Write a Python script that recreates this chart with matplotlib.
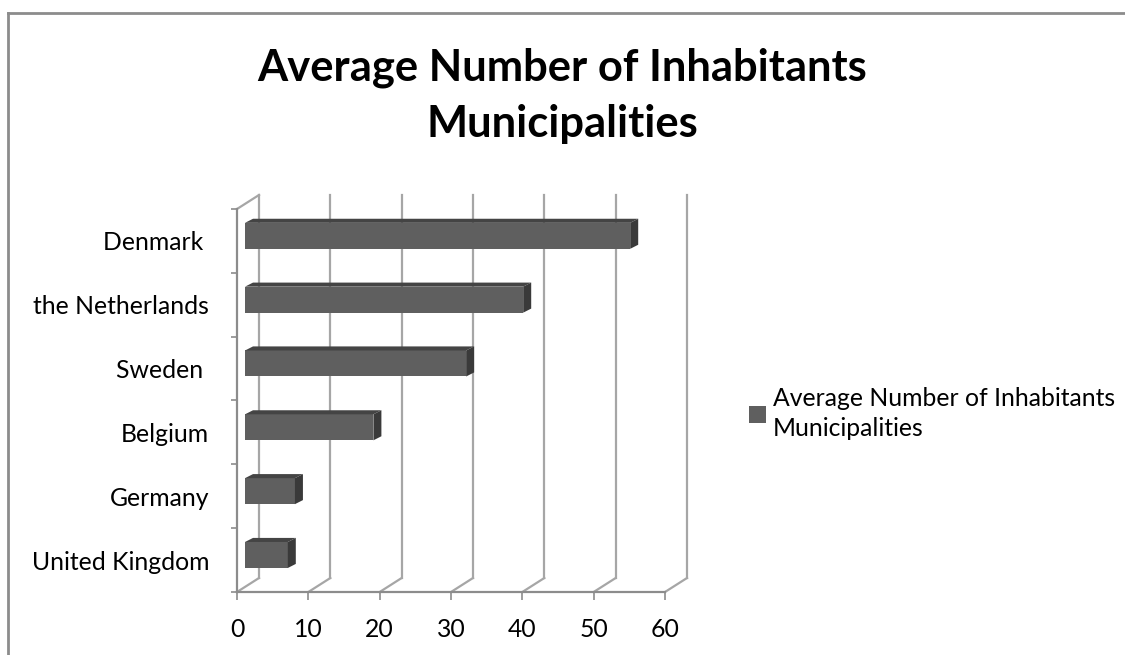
import matplotlib
matplotlib.use("Agg")
import matplotlib.pyplot as plt
from matplotlib.patches import Polygon, Patch
from matplotlib.lines import Line2D

# data (bottom to top, as drawn)
countries = ["United Kingdom", "Germany", "Belgium", "Sweden ", "the Netherlands", "Denmark "]
values = [6, 7, 18, 31, 39, 54]
x_ticks = [0, 10, 20, 30, 40, 50, 60]
series_name = "Average Number of Inhabitants\nMunicipalities"
title = "Average Number of Inhabitants\nMunicipalities"

plt.rcParams['font.family'] = ['Lato', 'DejaVu Sans']

W, H = 1125, 655
fig = plt.figure(figsize=(W / 100, H / 100), dpi=100)
fig.patch.set_facecolor("white")

# front plane of the fake 3D box, in pixels
px_left, px_right, px_bot, px_top = 237, 665, 592, 209
ax = fig.add_axes([px_left / W, 1 - px_bot / H,
                   (px_right - px_left) / W, (px_bot - px_top) / H])
ax.set_xlim(0, 60)
ax.set_ylim(-0.5, len(countries) - 0.5)
ax.patch.set_alpha(0)

# depth offset (data units) of the back wall
xpx = (px_right - px_left) / 60.0
ypx = (px_bot - px_top) / len(countries)
dx, dy = 22 / xpx, 14 / ypx
grid_c = "#a6a6a6"
ylo, yhi = -0.5, len(countries) - 0.5

# back wall gridlines + floor diagonals
for t in x_ticks:
    ax.plot([t + dx, t + dx], [ylo + dy, yhi + dy], color=grid_c, lw=1.6, clip_on=False, zorder=1)
    ax.plot([t, t + dx], [ylo, ylo + dy], color=grid_c, lw=1.6, clip_on=False, zorder=1)
# left wall
ax.plot([0, dx], [yhi, yhi + dy], color=grid_c, lw=1.6, clip_on=False, zorder=1)
ax.plot([0, 0], [ylo, yhi], color="#8c8c8c", lw=1.6, clip_on=False, zorder=2)
ax.plot([0, 60], [ylo, ylo], color="#8c8c8c", lw=1.6, clip_on=False, zorder=2)

# bars
f0 = 8 / 22.0
bdx, bdy = f0 * dx, f0 * dy * 0.8
bh = 26 / ypx
for i, v in enumerate(values):
    x0 = f0 * dx
    x1 = v + f0 * dx
    yc = i + f0 * dy
    yb, yt = yc - bh / 2, yc + bh / 2
    ax.add_patch(Polygon([(x0, yb), (x1, yb), (x1, yt), (x0, yt)], closed=True,
                         facecolor="#5f5f5f", edgecolor="none", zorder=5, clip_on=False))
    ax.add_patch(Polygon([(x0, yt), (x1, yt), (x1 + bdx, yt + bdy), (x0 + bdx, yt + bdy)], closed=True,
                         facecolor="#444444", edgecolor="none", zorder=5, clip_on=False))
    ax.add_patch(Polygon([(x1, yb), (x1, yt), (x1 + bdx, yt + bdy), (x1 + bdx, yb + bdy)], closed=True,
                         facecolor="#3a3a3a", edgecolor="none", zorder=5, clip_on=False))

for s in ax.spines.values():
    s.set_visible(False)

ax.set_xticks(x_ticks)
ax.set_xticklabels([str(t) for t in x_ticks], fontsize=17.8)
ax.tick_params(axis="x", length=6, width=1.2, color="#8c8c8c", pad=13)
ax.set_yticks(range(len(countries)))
ax.set_yticklabels(countries, fontsize=17.8)
ax.tick_params(axis="y", which="major", length=0, pad=20)
ax.set_yticks([k - 0.5 for k in range(len(countries) + 1)], minor=True)
ax.tick_params(axis="y", which="minor", length=4, width=1.2, color="#8c8c8c")

fig.text(0.5, 1 - 137 / H, title, ha="center", va="baseline", fontsize=31.3,
         fontweight="bold", linespacing=1.48, multialignment="center")

leg = fig.legend(handles=[Patch(facecolor="#5f5f5f", edgecolor="none")], labels=[series_name],
                 loc="upper left", bbox_to_anchor=(727 / W, 1 - 365 / H), frameon=False,
                 fontsize=17.8, handlelength=0.66, handleheight=0.66, handletextpad=0.3)
for t in leg.get_texts():
    t.set_linespacing(1.36)

# outer chart border (left and top)
fig.add_artist(Line2D([8 / W, 8 / W], [0, 1 - 13 / H], color="#8c8c8c", lw=2))
fig.add_artist(Line2D([8 / W, 1], [1 - 13 / H, 1 - 13 / H], color="#8c8c8c", lw=2))

fig.savefig("out.png", dpi=100, facecolor="white")
